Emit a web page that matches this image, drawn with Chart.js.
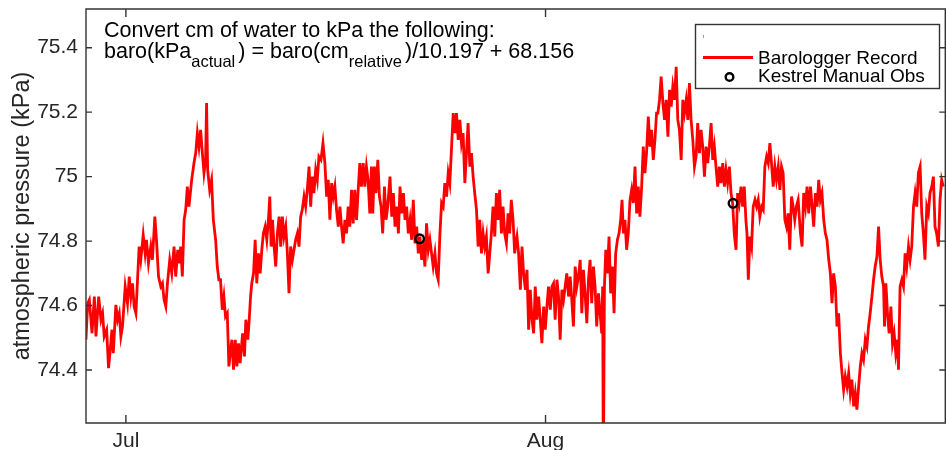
<!DOCTYPE html>
<html><head><meta charset="utf-8">
<script src="https://cdn.jsdelivr.net/npm/chart.js@4.4.1/dist/chart.umd.min.js"></script>
<style>
html,body{margin:0;padding:0;background:#fff;overflow:hidden;width:946px;height:450px;}
#wrap{position:relative;width:952px;height:450px;}
canvas{display:block;}
</style></head><body>
<div id="wrap"><canvas id="c" width="952" height="450"></canvas></div>
<script>
// ---- data (days since 1 Jul, kPa) ----
const xTickDays = [0, 31];
const xTickLabels = ['Jul', 'Aug'];
const yTicks = [74.4, 74.6, 74.8, 75, 75.2, 75.4];
const yTickLabels = ['74.4', '74.6', '74.8', '75', '75.2', '75.4'];

const baroDays = [
-2.95,-2.82,-2.70,-2.50,-2.33,-2.21,-2.01,-1.84,-1.72,-1.60,-1.42,-1.28,-1.18,-1.03,-0.93,-0.74,-0.61,-0.49,-0.37,-0.25,-0.05,0.12,0.25,0.37,0.49,0.61,0.74,0.86,0.98,1.10,1.28,1.42,1.52,1.67,1.84,1.96,2.14,2.26,2.41,2.58,2.70,2.82,2.95,3.07,3.24,3.39,3.56,3.68,3.83,3.93,4.05,4.17,4.30,4.42,4.54,4.66,4.86,5.03,5.16,5.28,5.40,5.52,5.65,5.77,5.89,5.96,6.04,6.19,6.33,6.46,6.63,6.75,6.87,6.99,7.12,7.24,7.36,7.49,7.61,
7.71,7.83,7.95,8.08,8.20,8.32,8.44,8.62,8.76,8.86,9.01,9.11,9.21,9.30,9.43,9.55,9.67,9.79,9.92,10.04,10.16,10.29,10.41,10.53,10.63,10.73,10.83,10.95,11.07,11.19,11.32,11.44,11.56,11.68,11.81,11.93,12.05,12.17,12.30,12.42,12.54,12.67,12.79,12.91,13.03,13.16,13.28,13.40,13.53,13.65,13.77,13.89,14.02,14.14,14.26,14.41,14.56,14.70,14.83,14.95,15.07,15.20,15.32,15.44,15.56,15.69,15.81,15.93,16.05,16.18,16.30,16.42,16.54,16.67,16.79,16.91,17.04,17.16,17.28,17.40,17.53,17.65,17.77,17.89,18.02,18.14,
18.24,18.36,18.48,18.61,18.73,18.85,18.97,19.10,19.22,19.34,19.51,19.64,19.76,19.88,20.01,20.13,20.25,20.37,20.50,20.62,20.74,20.86,20.99,21.11,21.23,21.36,21.48,21.60,21.72,21.85,21.97,22.09,22.21,22.34,22.46,22.58,22.70,22.83,22.95,23.07,23.20,23.32,23.44,23.56,23.69,23.81,23.93,24.06,24.18,24.30,24.42,24.55,24.67,24.79,24.91,25.04,25.16,25.28,25.41,25.53,25.65,25.77,25.90,26.02,26.14,26.27,26.39,26.51,26.63,26.76,26.88,27.00,27.12,27.25,27.37,27.49,27.61,27.74,27.86,27.98,28.11,28.23,28.35,28.47,28.60,28.72,
28.77,28.89,29.01,29.14,29.26,29.38,29.51,29.63,29.75,29.87,30.00,30.12,30.24,30.36,30.49,30.61,30.73,30.86,30.98,31.10,31.22,31.35,31.47,31.59,31.71,31.84,31.96,32.08,32.21,32.33,32.45,32.57,32.70,32.82,32.94,33.06,33.19,33.31,33.43,33.56,33.68,33.80,33.92,34.05,34.17,34.29,34.41,34.54,34.66,34.78,34.91,35.03,35.15,35.22,35.27,35.35,35.45,35.57,35.69,35.81,35.94,36.06,36.18,36.31,36.43,36.55,36.65,36.75,36.87,36.99,37.11,37.24,37.36,37.48,37.61,37.73,37.85,37.97,38.10,38.22,38.34,38.46,38.59,38.71,38.83,38.96,39.08,39.20,
39.30,39.42,39.54,39.67,39.79,39.91,40.04,40.16,40.28,40.40,40.53,40.65,40.77,40.89,41.02,41.14,41.26,41.39,41.51,41.63,41.75,41.88,42.00,42.12,42.24,42.37,42.49,42.61,42.74,42.86,42.98,43.10,43.23,43.35,43.47,43.59,43.72,43.84,43.96,44.09,44.21,44.33,44.45,44.58,44.70,44.82,44.94,45.07,45.19,45.31,45.44,45.56,45.68,45.80,45.88,45.98,46.10,46.22,46.34,46.47,46.59,46.71,46.83,46.96,47.08,47.20,47.33,47.45,47.57,47.69,47.82,47.94,48.06,48.19,48.31,48.43,48.55,48.68,48.80,48.92,49.04,49.17,49.29,49.41,49.53,49.66,
49.83,49.95,50.07,50.20,50.32,50.44,50.57,50.69,50.81,50.93,51.06,51.18,51.30,51.42,51.55,51.67,51.79,51.92,52.04,52.16,52.28,52.41,52.53,52.65,52.78,52.90,53.02,53.14,53.27,53.39,53.51,53.63,53.76,53.88,54.00,54.13,54.25,54.37,54.49,54.62,54.74,54.86,54.98,55.11,55.23,55.35,55.48,55.60,55.72,55.84,55.97,56.04,56.14,56.26,56.38,56.51,56.63,56.75,56.87,57.00,57.07,57.19,57.32,57.44,57.56,57.68,57.81,57.93,58.05,58.18,58.30,58.42,58.54,58.67,58.79,58.91,59.03,59.16,59.28,59.40,59.53,59.65,59.77,59.89,60.02,60.14,60.26,60.38
];

const baroKPa = [
74.494,74.607,74.618,74.514,74.628,74.504,74.628,74.556,74.576,74.504,74.525,74.406,74.452,74.525,74.452,74.602,74.556,74.576,74.504,74.535,74.659,74.607,74.690,74.628,74.669,74.597,74.576,74.680,74.783,74.742,74.819,74.762,74.804,74.731,74.783,74.742,74.876,74.804,74.690,74.659,74.669,74.618,74.597,74.669,74.742,74.700,74.783,74.690,74.773,74.731,74.783,74.690,74.866,74.897,74.969,74.907,74.990,75.042,75.073,75.135,75.093,75.145,75.073,75.011,75.052,75.228,75.021,74.959,74.990,74.866,74.804,74.721,74.680,74.680,74.587,74.628,74.566,74.576,74.411,
74.452,74.494,74.401,74.494,74.411,74.483,74.421,74.514,74.442,74.556,74.494,74.556,74.628,74.669,74.700,74.804,74.669,74.762,74.700,74.773,74.824,74.845,74.804,74.866,74.938,74.783,74.866,74.783,74.721,74.824,74.876,74.783,74.876,74.814,74.845,74.762,74.638,74.783,74.742,74.773,74.804,74.824,74.783,74.876,74.897,74.938,74.907,74.959,75.031,74.907,75.000,74.949,75.021,74.990,75.062,75.052,75.104,75.042,74.938,74.990,74.866,74.980,74.938,74.969,74.897,74.845,74.907,74.845,74.793,74.866,74.824,74.907,74.845,74.959,74.855,74.959,74.866,74.959,75.042,74.969,75.042,74.969,75.031,74.990,74.886,75.031,
74.886,75.031,74.949,75.052,74.938,74.907,74.824,74.969,74.866,74.907,75.000,74.876,74.949,74.845,74.907,74.824,74.969,74.886,74.949,74.866,74.907,74.824,74.866,74.804,74.928,74.793,74.845,74.762,74.814,74.742,74.783,74.721,74.855,74.773,74.804,74.762,74.721,74.762,74.700,74.680,74.824,74.918,74.907,74.980,74.938,75.011,74.980,75.093,75.197,75.135,75.197,75.114,75.176,75.104,75.135,74.980,75.073,75.166,75.031,75.073,75.000,74.949,74.897,74.783,74.866,74.762,74.824,74.783,74.814,74.700,74.762,74.824,74.907,74.814,74.949,74.866,74.959,74.824,74.907,74.824,74.793,74.886,74.824,74.928,74.866,74.762,
74.783,74.814,74.762,74.649,74.783,74.700,74.649,74.711,74.525,74.649,74.556,74.514,74.659,74.556,74.628,74.556,74.483,74.597,74.525,74.597,74.659,74.587,74.659,74.669,74.556,74.680,74.628,74.494,74.649,74.618,74.659,74.700,74.628,74.690,74.618,74.535,74.721,74.659,74.690,74.742,74.576,74.711,74.638,74.545,74.680,74.742,74.607,74.721,74.659,74.535,74.638,74.576,74.514,74.659,74.050,74.659,74.773,74.700,74.814,74.638,74.721,74.576,74.762,74.804,74.824,74.866,74.928,74.824,74.866,74.773,74.824,74.928,74.959,74.918,75.031,74.886,74.969,74.876,74.969,75.093,75.011,75.073,75.186,75.093,75.145,75.052,75.114,75.197,
75.197,75.238,75.310,75.228,75.176,75.238,75.124,75.269,75.217,75.279,75.238,75.341,75.176,75.145,75.052,75.238,75.197,75.238,75.176,75.290,75.176,75.114,75.031,75.062,75.166,75.073,75.145,75.093,75.000,75.093,75.042,75.093,75.166,75.052,75.093,75.031,74.969,75.031,74.980,75.042,74.969,75.021,74.980,75.031,74.949,74.918,74.824,74.773,74.949,74.918,74.969,74.907,74.969,74.866,74.824,74.680,74.814,74.783,74.907,74.928,74.907,74.928,74.876,74.907,74.897,75.031,75.062,75.042,75.104,75.042,74.969,75.031,74.990,75.031,74.959,75.031,75.011,74.866,74.845,74.886,74.773,74.938,74.907,74.866,74.907,74.928,
74.824,74.783,74.949,74.907,74.969,74.886,74.969,74.907,74.845,74.949,74.907,74.990,74.928,74.949,74.866,74.824,74.804,74.742,74.700,74.607,74.700,74.659,74.535,74.576,74.452,74.390,74.339,74.380,74.349,74.390,74.328,74.370,74.287,74.328,74.277,74.349,74.411,74.452,74.432,74.494,74.473,74.535,74.576,74.628,74.680,74.721,74.752,74.845,74.742,74.690,74.659,74.535,74.669,74.576,74.514,74.597,74.483,74.514,74.452,74.494,74.401,74.659,74.680,74.659,74.762,74.721,74.783,74.742,74.783,74.907,74.949,74.907,75.011,75.031,74.886,74.824,74.742,74.907,74.886,74.949,74.969,75.000,74.845,74.824,74.783,74.928,74.990,74.969
];

const kestrelDays = [21.70, 44.85];
const kestrelKPa = [74.807, 74.917];

const seriesNames = ['Barologger Record', 'Kestrel Manual Obs'];
const yTitle = 'atmospheric pressure (kPa)';
const noteLine1 = 'Convert cm of water to kPa the following:';
const noteLine2 = [['baro(kPa', false], ['actual', true], [') = baro(cm', false], ['relative', true], [')/10.197 + 68.156', false]];

// ---- view ----
const X_MIN = -2.946, X_MAX = 60.53;
const Y_MIN = 74.2356, Y_MAX = 75.52;
const AXIS = '#262626';
const FONT = '"Liberation Sans", Arial, Helvetica, sans-serif';

const framePlugin = {
  id: 'frame',
  afterDraw(chart) {
    const {ctx, chartArea: a, scales: {x, y}} = chart;
    ctx.save();
    ctx.strokeStyle = '#333';
    ctx.lineWidth = 1.4;
    const L = a.left, R = a.right, T = a.top, B = a.bottom;
    ctx.beginPath();
    ctx.moveTo(L, T); ctx.lineTo(R, T); ctx.lineTo(R, B); ctx.lineTo(L, B); ctx.closePath();
    x.ticks.forEach(t => {
      const px = x.getPixelForValue(t.value);
      ctx.moveTo(px, B); ctx.lineTo(px, B - 8);
      ctx.moveTo(px, T); ctx.lineTo(px, T + 8);
    });
    y.ticks.forEach(t => {
      const py = y.getPixelForValue(t.value);
      ctx.moveTo(L, py); ctx.lineTo(L + 6, py);
      ctx.moveTo(R, py); ctx.lineTo(R - 6, py);
    });
    ctx.stroke();

    // annotation
    ctx.fillStyle = '#000';
    ctx.textBaseline = 'alphabetic';
    ctx.textAlign = 'left';
    ctx.font = '21.5px ' + FONT;
    ctx.fillText(noteLine1, 104, 37);
    let nx = 104;
    noteLine2.forEach(([s, sub]) => {
      ctx.font = (sub ? '16.5px ' : '21.5px ') + FONT;
      ctx.fillText(s, nx, sub ? 67 : 58);
      nx += ctx.measureText(s).width + (sub ? 3 : 0);
    });

    // legend
    ctx.fillStyle = '#fff';
    ctx.fillRect(695.5, 24.5, 244, 64);
    ctx.strokeStyle = '#333';
    ctx.lineWidth = 1.4;
    ctx.strokeRect(695.5, 24.5, 244, 64);
    ctx.fillStyle = '#6fa8dc';
    ctx.fillRect(703, 35, 1, 3);
    ctx.strokeStyle = '#ff0000';
    ctx.lineWidth = 2.8;
    ctx.beginPath(); ctx.moveTo(703, 57.5); ctx.lineTo(753, 57.5); ctx.stroke();
    ctx.strokeStyle = '#000';
    ctx.lineWidth = 2.4;
    ctx.beginPath(); ctx.arc(729.5, 77, 3.8, 0, Math.PI * 2); ctx.stroke();
    ctx.fillStyle = '#000';
    ctx.font = '19px ' + FONT;
    ctx.fillText(chart.data.datasets[0].label, 758, 63.5);
    ctx.fillText(chart.data.datasets[1].label, 758, 82);
    ctx.restore();
  }
};

new Chart(document.getElementById('c').getContext('2d'), {
  type: 'scatter',
  data: {
    datasets: [
      {
        label: seriesNames[0],
        data: baroDays.map((d, i) => ({x: d, y: baroKPa[i]})),
        showLine: true, borderColor: '#ff0000', backgroundColor: '#ff0000',
        borderWidth: 2.8, pointRadius: 0, pointHoverRadius: 0, tension: 0, fill: false,
        clip: 0, order: 1
      },
      {
        label: seriesNames[1],
        data: kestrelDays.map((d, i) => ({x: d, y: kestrelKPa[i]})),
        showLine: false, pointRadius: 4.3, pointBorderWidth: 2.4,
        pointBorderColor: '#000', pointBackgroundColor: 'rgba(0,0,0,0)',
        borderColor: '#000', backgroundColor: 'rgba(0,0,0,0)', order: 0
      }
    ]
  },
  options: {
    responsive: false, animation: false, devicePixelRatio: 1,
    layout: {padding: {left: 0, top: 9, right: 4, bottom: 0}},
    plugins: {legend: {display: false}, tooltip: {enabled: false}},
    scales: {
      x: {
        type: 'linear', position: 'bottom', min: X_MIN, max: X_MAX,
        grid: {display: false, drawTicks: false, tickLength: 0}, border: {display: false},
        afterBuildTicks: s => { s.ticks = xTickDays.map(v => ({value: v})); },
        afterFit: s => { s.height = 27; s.paddingLeft = 0; s.paddingRight = 0; },
        ticks: {
          callback: (v, i) => xTickLabels[i], autoSkip: false, maxRotation: 0,
          font: {family: FONT, size: 21}, color: AXIS, padding: 6
        }
      },
      y: {
        type: 'linear', position: 'left', min: Y_MIN, max: Y_MAX,
        grid: {display: false, drawTicks: false, tickLength: 0}, border: {display: false},
        afterBuildTicks: s => { s.ticks = yTicks.map(v => ({value: v})); },
        afterFit: s => { s.width = 86; s.paddingTop = 0; s.paddingBottom = 0; },
        ticks: {
          callback: (v, i) => yTickLabels[i],
          font: {family: FONT, size: 21}, color: AXIS, padding: 8
        },
        title: {
          display: true, text: yTitle, color: AXIS,
          font: {family: FONT, size: 23.5}, padding: {top: 8, bottom: 0}
        }
      }
    }
  },
  plugins: [framePlugin]
});
</script>
</body></html>
